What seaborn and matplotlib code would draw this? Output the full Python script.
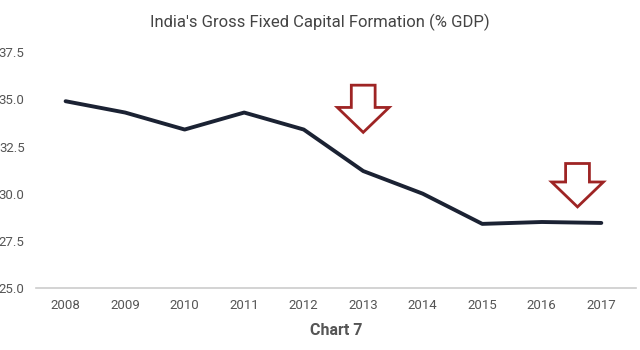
import numpy as np
import pandas as pd
import matplotlib
matplotlib.use("Agg")
import matplotlib.pyplot as plt
import seaborn as sns

years = [2008, 2009, 2010, 2011, 2012, 2013, 2014, 2015, 2016, 2017]
gfcf = [34.9, 34.3, 33.4, 34.3, 33.4, 31.2, 30.0, 28.4, 28.5, 28.45]
y_ticks = [25.0, 27.5, 30.0, 32.5, 35.0, 37.5]

# down arrows (x centre, top, tip)
arrows_x = [2013, 2016.6]
arrows_top = [35.75, 31.6]
arrows_tip = [33.25, 29.3]

df = pd.DataFrame({"year": years, "gfcf": gfcf})

sns.set_theme(style="white")
plt.rcParams["font.family"] = ["Roboto", "DejaVu Sans"]

fig = plt.figure(figsize=(6.4, 3.5), dpi=100)
ax = fig.add_axes([0.056, 0.177, 0.9375, 0.674])

sns.lineplot(x="year", y="gfcf", data=df, ax=ax, color="#1b2233", linewidth=2.8)

for xc, top, tip in zip(arrows_x, arrows_top, arrows_tip):
    ax.arrow(xc, top, 0, tip - top, width=0.40, head_width=0.87,
             head_length=1.32, length_includes_head=True,
             facecolor="white", edgecolor="#9e2424", linewidth=2, zorder=5)

ax.set_xlim(2007.5, 2017.58)
ax.set_ylim(25, 37.5)
ax.set_xticks(years)
ax.set_xticklabels([str(y) for y in years], color="#555555", fontsize=9.5)
ax.set_yticks(y_ticks)
ax.set_yticklabels([f"{v:.1f}" for v in y_ticks], color="#555555", fontsize=9.5)
ax.tick_params(axis="both", length=0)
ax.tick_params(axis="y", pad=8)
ax.tick_params(axis="x", pad=8)

for s in ["top", "right", "left"]:
    ax.spines[s].set_visible(False)
ax.spines["bottom"].set_color("#cccccc")
ax.spines["bottom"].set_linewidth(1.2)

ax.set_xlabel("Chart 7", fontsize=11.5, fontweight="bold", color="#555555", labelpad=8)
ax.set_ylabel("")
fig.text(0.5, 0.935, "India's Gross Fixed Capital Formation (% GDP)",
         ha="center", va="center", fontsize=12, color="#444444")

fig.savefig("out.png", dpi=100)
